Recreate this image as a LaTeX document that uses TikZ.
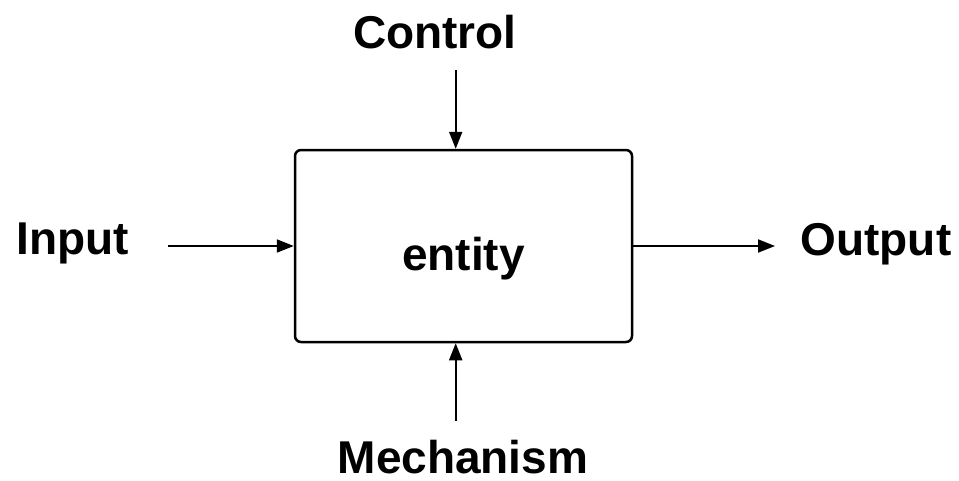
\documentclass[tikz,border=0pt]{standalone}
\usepackage{fontspec}
\setmainfont{Liberation Sans}
\usetikzlibrary{arrows.meta}
\begin{document}
\begin{tikzpicture}[x=1pt,y=-1pt,
  lbl/.style={font=\fontsize{46}{55}\selectfont\bfseries, anchor=base, inner sep=0pt},
  conn/.style={line width=2pt, -{Triangle[length=17pt,width=13pt]}},
  entitybox/.style={draw, line width=2.5pt, rounded corners=6pt, minimum width=337pt, minimum height=192pt, inner sep=0pt, font=\fontsize{46}{55}\selectfont\bfseries, text height=48pt, text depth=0pt}]
\useasboundingbox (0,0) rectangle (959,480);
\node[entitybox] (box) at (463.5,246) {entity};
\node[lbl] (control) at (435,48) {Control};
\node[lbl] (input) at (73,254) {Input};
\node[lbl] (output) at (876,255) {Output};
\node[lbl] (mech) at (463,473.5) {Mechanism};
\coordinate (cstart) at (455.7,70);
\coordinate (istart) at (168,246);
\coordinate (oend) at (775,246);
\coordinate (mstart) at (455.7,421);
\draw[conn] (cstart) -- (cstart |- box.north);
\draw[conn] (mstart) -- (mstart |- box.south);
\draw[conn] (istart) -- (box.west |- istart);
\draw[conn] (box.east |- oend) -- (oend);
\end{tikzpicture}
\end{document}
